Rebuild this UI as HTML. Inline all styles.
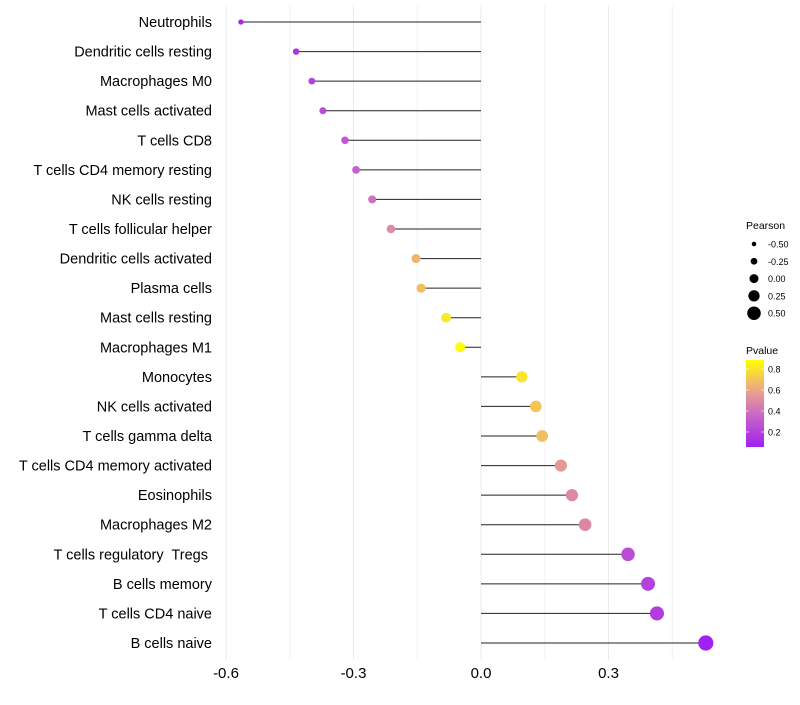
<!DOCTYPE html>
<html><head><meta charset="utf-8"><style>
body{margin:0;background:#fff;font-family:"Liberation Sans",sans-serif;}
text{white-space:pre;}
</style></head><body>
<svg id="chart" width="800" height="700" xmlns="http://www.w3.org/2000/svg"></svg>
<script>
const categories=["Neutrophils","Dendritic cells resting","Macrophages M0","Mast cells activated","T cells CD8","T cells CD4 memory resting","NK cells resting","T cells follicular helper","Dendritic cells activated","Plasma cells","Mast cells resting","Macrophages M1","Monocytes","NK cells activated","T cells gamma delta","T cells CD4 memory activated","Eosinophils","Macrophages M2","T cells regulatory  Tregs ","B cells memory","T cells CD4 naive","B cells naive"];
const pearson=[-0.565,-0.435,-0.398,-0.372,-0.32,-0.294,-0.256,-0.212,-0.153,-0.141,-0.082,-0.049,0.096,0.129,0.144,0.188,0.214,0.245,0.346,0.393,0.414,0.529];
const pvalue=[0.1,0.15,0.2,0.25,0.3,0.33,0.4,0.5,0.65,0.68,0.82,0.88,0.8,0.7,0.68,0.55,0.5,0.48,0.25,0.2,0.18,0.06];
const xTicks=[-0.6,-0.3,0.0,0.3];
const xTickLabels=["-0.6","-0.3","0.0","0.3"];
const sizeLegend=[-0.5,-0.25,0,0.25,0.5];
const sizeLegendLabels=["-0.50","-0.25","0.00","0.25","0.50"];
const colorTicks=[0.8,0.6,0.4,0.2];

const NS="http://www.w3.org/2000/svg";
const svg=document.getElementById('chart');
function el(t,a,p){const e=document.createElementNS(NS,t);for(const k in a)e.setAttribute(k,a[k]);(p||svg).appendChild(e);return e;}
const xS=v=>481+v*425;
const yS=i=>22+i*(621/21);
const rS=v=>5.2+4.5*v;
const stops=[[0.057,[160,32,240]],[0.35,[200,100,200]],[0.6,[236,165,135]],[0.886,[255,255,0]]];
function col(p){if(p<=stops[0][0])return`rgb(${stops[0][1]})`;for(let i=1;i<stops.length;i++){if(p<=stops[i][0]){const a=stops[i-1],b=stops[i];const t=(p-a[0])/(b[0]-a[0]);return`rgb(${a[1].map((c,j)=>Math.round(c+(b[1][j]-c)*t)).join(',')})`;}}return`rgb(${stops[3][1]})`;}
[-0.45,-0.15,0.15,0.45].forEach(v=>{const g=el('line',{x1:xS(v),x2:xS(v),y1:5,y2:660,stroke:'#f4f4f4','stroke-width':1});});
xTicks.forEach((v,i)=>{const g=el('line',{x1:xS(v),x2:xS(v),y1:5,y2:660,stroke:'#ebebeb','stroke-width':1});
const t=el('text',{x:xS(v),y:678,'text-anchor':'middle','font-size':15,fill:'#000'});t.textContent=xTickLabels[i];});
categories.forEach((c,i)=>{
const y=yS(i);
const t=el('text',{x:212,y:y+5,'text-anchor':'end','font-size':14.5,fill:'#000','xml:space':'preserve'});t.textContent=c;
const l=el('line',{x1:xS(0),x2:xS(pearson[i]),y1:y,y2:y,stroke:'#222','stroke-width':1});
const d=el('circle',{cx:xS(pearson[i]),cy:y,r:rS(pearson[i]),fill:col(pvalue[i])});
});
const lt=el('text',{x:746,y:229,'font-size':10.5});lt.textContent='Pearson';
sizeLegend.forEach((v,i)=>{const y=244+i*17.3;const c=el('circle',{cx:754,cy:y,r:rS(v)-0.7,fill:'#000'});
const t=el('text',{x:768,y:y+3.5,'font-size':9});t.textContent=sizeLegendLabels[i];});
const ct=el('text',{x:746,y:354,'font-size':10.5});ct.textContent='Pvalue';
const defs=el('defs',{});const gr=el('linearGradient',{id:'pg',x1:0,y1:1,x2:0,y2:0},defs);
stops.forEach(s=>el('stop',{offset:(s[0]-0.057)/(0.886-0.057),'stop-color':`rgb(${s[1]})`},gr));
const cb=el('rect',{x:746,y:360,width:18,height:87,fill:'url(#pg)'});
colorTicks.forEach(v=>{const y=447-(v-0.057)/(0.886-0.057)*87;el('line',{x1:746,x2:749,y1:y,y2:y,stroke:'#fff','stroke-opacity':0.6});el('line',{x1:761,x2:764,y1:y,y2:y,stroke:'#fff','stroke-opacity':0.6});
const t=el('text',{x:768,y:y+3.5,'font-size':9});t.textContent=v.toFixed(1);});
</script>
</body></html>
